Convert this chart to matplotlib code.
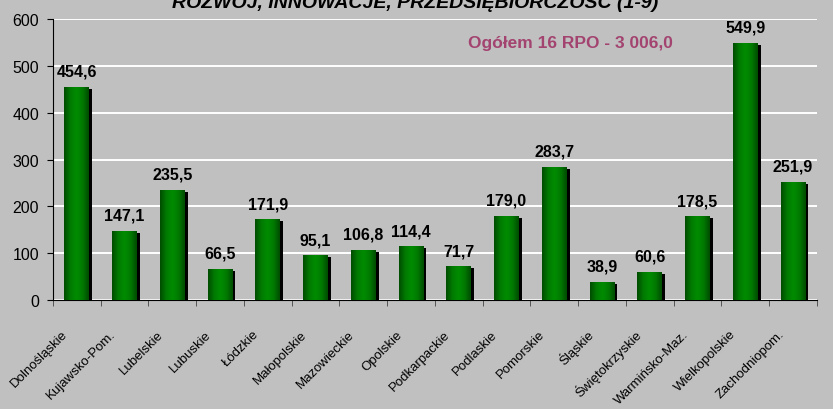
import numpy as np
import matplotlib
matplotlib.use("Agg")
import matplotlib.pyplot as plt
from matplotlib.colors import LinearSegmentedColormap
from matplotlib.transforms import ScaledTranslation

regions = ["Dolnośląskie", "Kujawsko-Pom.", "Lubelskie", "Lubuskie", "Łódzkie",
           "Małopolskie", "Mazowieckie", "Opolskie", "Podkarpackie", "Podlaskie",
           "Pomorskie", "Śląskie", "Świętokrzyskie", "Warmińsko-Maz.",
           "Wielkopolskie", "Zachodniopom."]
values = [454.6, 147.1, 235.5, 66.5, 171.9, 95.1, 106.8, 114.4, 71.7, 179.0,
          283.7, 38.9, 60.6, 178.5, 549.9, 251.9]
title = "ROZWÓJ, INNOWACJE, PRZEDSIĘBIORCZOŚĆ (1-9)"
total_label = "Ogółem 16 RPO - 3 006,0"

bg = "#C0C0C0"
plt.rcParams["font.family"] = ["Liberation Sans", "DejaVu Sans"]

fig = plt.figure(figsize=(8.33, 4.10), dpi=100, facecolor=bg)
ax = fig.add_axes([0.0636, 0.266, 0.917, 0.685], facecolor=bg)

x = np.arange(len(values))
width = 0.52

# shadow
shadow = ScaledTranslation(3 / 100, -2 / 100, fig.dpi_scale_trans)
ax.bar(x, values, width=width, color="black", zorder=2,
       transform=ax.transData + shadow)
bars = ax.bar(x, values, width=width, color="#006400", zorder=3)

# green gradient inside the bars
cmap = LinearSegmentedColormap.from_list("g", ["#004c00", "#007a00", "#008c00", "#007a00", "#004c00"])
grad = np.linspace(0, 1, 64).reshape(1, -1)
for b in bars:
    im = ax.imshow(grad, cmap=cmap, aspect="auto", zorder=4,
                   extent=(b.get_x(), b.get_x() + b.get_width(), 0, b.get_height()))
    im.set_clip_path(b)

for xi, v in zip(x, values):
    ax.annotate(f"{v:.1f}".replace(".", ","), (xi, v), xytext=(0, 6),
                textcoords="offset points", ha="center", va="bottom",
                fontsize=11.5, fontweight="bold", zorder=5)

ax.set_xlim(-0.5, len(values) - 0.5)
ax.set_ylim(0, 600)
ax.set_yticks(range(0, 601, 100))
ax.yaxis.grid(True, color="white", linewidth=1.4, zorder=0)
ax.set_axisbelow(True)

# category labels, drawn as texts so they can sit left of the tick like Excel does
ax.set_xticks(x)
ax.set_xticklabels([])
lbl_off = ax.get_xaxis_transform() + ScaledTranslation(-11 / 100, -32 / 100, fig.dpi_scale_trans)
for xi, name in zip(x, regions):
    ax.text(xi, 0, name, transform=lbl_off, rotation=45, ha="right", va="center",
            rotation_mode="anchor", fontsize=9.5, clip_on=False)
ax.set_xticks(np.arange(-0.5, len(values)), minor=True)
ax.tick_params(axis="x", which="major", length=0)
ax.tick_params(axis="x", which="minor", length=4, color="#444444")
ax.tick_params(axis="y", length=4, labelsize=11.5, pad=6)
for s in ["top", "right"]:
    ax.spines[s].set_visible(False)

fig.text(0.498, 0.981, title, ha="center", va="baseline", fontsize=14,
         fontweight="bold", fontstyle="italic")
ax.text(10.33, 551, total_label, ha="center", va="center", fontsize=12.5,
        fontweight="bold", color="#A3436F")

fig.savefig("out.png", dpi=100, facecolor=bg)
